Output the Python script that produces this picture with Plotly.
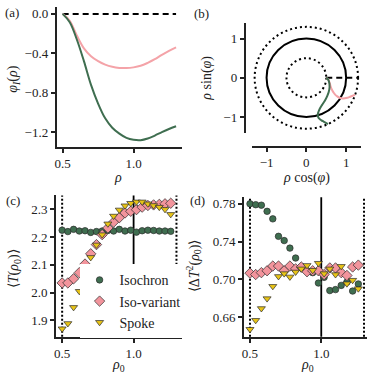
import numpy as np
import plotly.graph_objects as go

# (a) phase profiles phi_I(rho)
RHO = [0.50, 0.55, 0.60, 0.65, 0.70, 0.75, 0.80, 0.85, 0.90, 0.95,
       1.00, 1.05, 1.10, 1.15, 1.20, 1.25, 1.30]
PHI_ISOCHRON = [0.0, -0.085, -0.26, -0.48, -0.72, -0.91, -1.06, -1.155, -1.215, -1.258,
                -1.278, -1.282, -1.265, -1.235, -1.200, -1.168, -1.140]
PHI_ISOVAR = [0.0, -0.07, -0.22, -0.35, -0.43, -0.48, -0.515, -0.537, -0.548, -0.55,
              -0.543, -0.527, -0.497, -0.46, -0.415, -0.375, -0.34]
SPOKE_RHO = [0.5, 1.3]
SPOKE_PHI = [0.0, 0.0]

RING_RADII = [0.5, 1.0, 1.3]
RING_DASH = ["dot", "solid", "dot"]
REF_RHO = [0.5, 1.0, 1.3]

# (c), (d) statistics vs rho0
RHO0 = [0.50, 0.54, 0.58, 0.62, 0.66, 0.70, 0.74, 0.78, 0.82, 0.86,
        0.90, 0.94, 0.98, 1.02, 1.06, 1.10, 1.14, 1.18, 1.22, 1.26]
T_ISOCHRON = [2.225, 2.220, 2.228, 2.222, 2.223, 2.217, 2.220, 2.222, 2.224, 2.222,
              2.228, 2.222, 2.225, 2.218, 2.223, 2.225, 2.224, 2.222, 2.222, 2.221]
T_ISOVAR = [2.035, 2.035, 2.050, 2.072, 2.103, 2.140, 2.173, 2.209, 2.233, 2.254,
            2.270, 2.287, 2.293, 2.299, 2.308, 2.314, 2.316, 2.318, 2.320, 2.322]
T_SPOKE = [1.870, 1.889, 1.947, 2.005, 2.067, 2.127, 2.172, 2.209, 2.248, 2.276,
           2.298, 2.313, 2.322, 2.327, 2.327, 2.320, 2.314, 2.308, 2.300, 2.282]
V_ISOCHRON = [0.780, 0.779, 0.7785, 0.772, 0.764, 0.7455, 0.741, 0.733, 0.7225, 0.713,
              0.709, 0.707, 0.696, 0.702, 0.688, 0.689, 0.6935, 0.697, 0.6875, 0.695]
V_ISOVAR = [0.7065, 0.705, 0.707, 0.709, 0.714, 0.714, 0.709, 0.714, 0.711, 0.713,
            0.708, 0.709, 0.709, 0.705, 0.712, 0.712, 0.707, 0.704, 0.713, 0.715]
V_SPOKE = [0.647, 0.6565, 0.669, 0.6795, 0.6925, 0.703, 0.706, 0.7025, 0.7077, 0.711,
           0.7147, 0.7095, 0.717, 0.706, 0.711, 0.705, 0.7137, 0.6953, 0.699, 0.690]

GREEN = "#3f6e50"
PINK = "#f4a3a8"
PINK_M = "#f2949c"
YELLOW = "#e8c417"
EDGE = "#2b2b2b"
INK = "#222222"
FONT = "Liberation Serif"

W = H = 374


def px_x(p):
    return p / W


def px_y(p):
    return 1 - p / H


fig = go.Figure()

# (a)
fig.add_trace(go.Scatter(x=SPOKE_RHO, y=SPOKE_PHI, mode="lines",
                         line=dict(color="black", width=2, dash="6px,4px"),
                         showlegend=False, xaxis="x", yaxis="y"))
fig.add_trace(go.Scatter(x=RHO, y=PHI_ISOVAR, mode="lines", line_shape="spline",
                         line=dict(color=PINK, width=2), showlegend=False, xaxis="x", yaxis="y"))
fig.add_trace(go.Scatter(x=RHO, y=PHI_ISOCHRON, mode="lines", line_shape="spline",
                         line=dict(color=GREEN, width=2), showlegend=False, xaxis="x", yaxis="y"))

# (b) same curves in the plane
def to_plane(r, p):
    r = np.asarray(r)
    p = np.asarray(p)
    return r * np.cos(p), r * np.sin(p)


sx, sy = to_plane(SPOKE_RHO, SPOKE_PHI)
fig.add_trace(go.Scatter(x=sx, y=sy, mode="lines",
                         line=dict(color="black", width=2, dash="6px,4px"),
                         showlegend=False, xaxis="x2", yaxis="y2"))
for ph, col in [(PHI_ISOVAR, PINK), (PHI_ISOCHRON, GREEN)]:
    cx, cy = to_plane(RHO, ph)
    fig.add_trace(go.Scatter(x=cx, y=cy, mode="lines", line_shape="spline",
                             line=dict(color=col, width=2), showlegend=False,
                             xaxis="x2", yaxis="y2"))

# (c) and (d)
series = [
    ("Isochron", T_ISOCHRON, V_ISOCHRON, "circle", GREEN, 6.5),
    ("Iso-variant", T_ISOVAR, V_ISOVAR, "diamond", PINK_M, 8),
    ("Spoke", T_SPOKE, V_SPOKE, "triangle-down", YELLOW, 7),
]
for name, tv, vv, sym, col, sz in series:
    mk = dict(symbol=sym, color=col, size=sz, line=dict(color=EDGE, width=0.7))
    fig.add_trace(go.Scatter(x=RHO0, y=tv, mode="markers", name=name, marker=mk,
                             xaxis="x3", yaxis="y3", showlegend=True))
    fig.add_trace(go.Scatter(x=RHO0, y=vv, mode="markers", name=name, marker=mk,
                             xaxis="x4", yaxis="y4", showlegend=False))

shapes = []
for r, d in zip(RING_RADII, RING_DASH):
    shapes.append(dict(type="circle", xref="x2", yref="y2", x0=-r, x1=r, y0=-r, y1=r,
                       line=dict(color="black", width=2,
                                 dash="2px,3px" if d == "dot" else "solid"),
                       layer="below"))
for ax in ["3", "4"]:
    for r in REF_RHO:
        shapes.append(dict(type="line", xref="x" + ax, yref="y" + ax + " domain",
                           x0=r, x1=r, y0=0, y1=1,
                           line=dict(color="black", width=1.8 if r == 1.0 else 2,
                                     dash="solid" if r == 1.0 else "2px,2px"),
                           layer="below"))

axis_common = dict(showgrid=False, zeroline=False, showline=True, linecolor=INK,
                   linewidth=1.8, ticks="outside", ticklen=4, tickwidth=1.5,
                   tickcolor=INK, tickfont=dict(family=FONT, size=13, color=INK))

fig.update_layout(
    width=W, height=H, margin=dict(l=0, r=0, t=0, b=0),
    paper_bgcolor="white", plot_bgcolor="white",
    font=dict(family=FONT, size=13, color=INK),
    xaxis=dict(axis_common, domain=[px_x(55), px_x(181)], range=[0.458, 1.342],
               tickvals=[0.5, 1.0], tickformat=".1f", anchor="y"),
    yaxis=dict(axis_common, domain=[px_y(146), px_y(6)], range=[-1.347, 0.07],
               tickvals=[0.0, -0.4, -0.8, -1.2], tickformat=".1f", anchor="x"),
    xaxis2=dict(axis_common, domain=[px_x(251), px_x(361)], range=[-1.375, 1.375],
                tickvals=[-1, 0, 1], anchor="free", position=px_y(146)),
    yaxis2=dict(axis_common, domain=[px_y(132), px_y(22)], range=[-1.4, 1.4],
                tickvals=[-1, 0, 1], anchor="free", position=px_x(244)),
    xaxis3=dict(axis_common, domain=[px_x(54.3), px_x(181)], range=[0.457, 1.339],
                tickvals=[0.5, 1.0], tickformat=".1f", anchor="y3"),
    yaxis3=dict(axis_common, domain=[px_y(336.7), px_y(195)], range=[1.841, 2.35],
                tickvals=[1.9, 2.0, 2.1, 2.2, 2.3], tickformat=".1f", anchor="x3"),
    xaxis4=dict(axis_common, domain=[px_x(243.3), px_x(366.7)], range=[0.458, 1.319],
                tickvals=[0.5, 1.0], tickformat=".1f", anchor="y4"),
    yaxis4=dict(axis_common, domain=[px_y(336.7), px_y(196.7)], range=[0.639, 0.787],
                tickvals=[0.66, 0.70, 0.74, 0.78], tickformat=".2f", anchor="x4"),
    shapes=shapes,
    legend=dict(x=px_x(78), y=px_y(264), xanchor="left", yanchor="top",
                bgcolor="white", borderwidth=0, font=dict(family=FONT, size=14, color=INK),
                itemwidth=30, tracegroupgap=0),
)

ann = []


def label(text, x, y, angle=0, size=13):
    ann.append(dict(text=text, x=px_x(x), y=px_y(y), xref="paper", yref="paper",
                    showarrow=False, xanchor="center", yanchor="middle",
                    textangle=angle, font=dict(family=FONT, size=size, color=INK)))


label("(a)", 10, 12)
label("(b)", 201, 13)
label("(c)", 11, 200)
label("(d)", 197, 200)
label("<i>φ<sub>I</sub></i>(<i>ρ</i>)", 12, 78, -90, 14)
label("<i>ρ</i>", 117, 177, 0, 14)
label("<i>ρ</i> sin(<i>φ</i>)", 206, 77, -90, 14)
label("<i>ρ</i> cos(<i>φ</i>)", 306, 177, 0, 14)
label("⟨<i>T</i>(<i>ρ</i><sub>0</sub>)⟩", 12, 268, -90, 14)
label("<i>ρ</i><sub>0</sub>", 117, 365, 0, 14)
label("⟨Δ<i>T</i><sup>2</sup>(<i>ρ</i><sub>0</sub>)⟩", 193, 265, -90, 14)
label("<i>ρ</i><sub>0</sub>", 307, 365, 0, 14)
fig.update_layout(annotations=ann)

fig.write_html("out.html", config={"displayModeBar": False},
               post_script="document.body.style.margin='0';")
